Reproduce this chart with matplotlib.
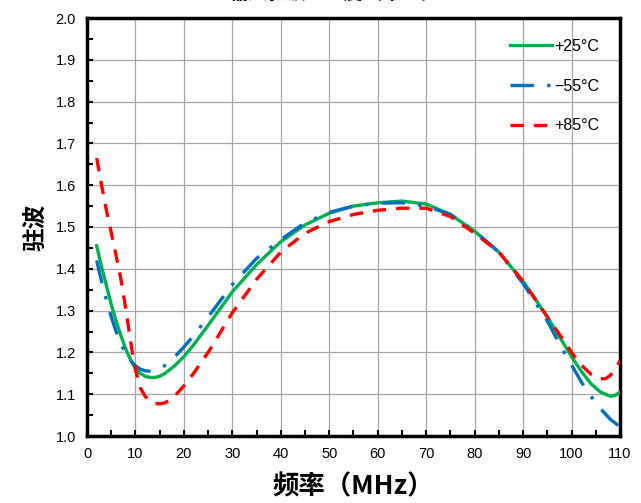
import matplotlib
matplotlib.use("Agg")
import matplotlib.pyplot as plt
from matplotlib.ticker import MultipleLocator

plt.rcParams['font.family'] = ['Liberation Sans', 'Noto Sans CJK SC', 'DejaVu Sans']

freq_g = [2, 3, 4, 5, 6, 7, 8, 9, 10, 11, 12, 13, 14, 15, 16, 18, 20, 22, 25, 30, 35, 40, 45, 50, 55, 60, 65, 70, 75, 80, 85, 90, 95, 98, 100, 102, 104, 106, 108, 109, 110]
vswr_25 = [1.455, 1.405, 1.36, 1.315, 1.275, 1.24, 1.208, 1.182, 1.162, 1.15, 1.143, 1.14, 1.14, 1.143, 1.149, 1.167, 1.19, 1.218, 1.265, 1.345, 1.41, 1.465, 1.505, 1.533, 1.55, 1.558, 1.562, 1.555, 1.53, 1.49, 1.44, 1.37, 1.285, 1.228, 1.19, 1.155, 1.125, 1.105, 1.095, 1.097, 1.105]

freq_b = [2, 3, 4, 5, 6, 7, 8, 9, 10, 11, 12, 13, 14, 16, 18, 20, 22, 25, 30, 35, 40, 45, 50, 55, 60, 65, 70, 75, 80, 85, 90, 95, 98, 100, 102, 104, 106, 108, 110]
vswr_m55 = [1.42, 1.37, 1.325, 1.285, 1.25, 1.22, 1.197, 1.18, 1.168, 1.16, 1.156, 1.155, 1.157, 1.168, 1.188, 1.213, 1.24, 1.285, 1.362, 1.425, 1.47, 1.51, 1.535, 1.55, 1.557, 1.558, 1.55, 1.53, 1.49, 1.44, 1.365, 1.275, 1.21, 1.17, 1.13, 1.095, 1.065, 1.04, 1.022]

freq_r = [2, 3, 4, 5, 6, 7, 8, 9, 10, 11, 12, 13, 14, 15, 16, 17, 18, 20, 22, 25, 30, 35, 40, 45, 50, 55, 60, 65, 70, 75, 80, 85, 90, 95, 98, 100, 102, 104, 106, 107, 108, 109, 110]
vswr_85 = [1.665, 1.6, 1.54, 1.487, 1.432, 1.375, 1.305, 1.225, 1.158, 1.115, 1.095, 1.083, 1.078, 1.077, 1.079, 1.085, 1.094, 1.12, 1.15, 1.2, 1.295, 1.375, 1.44, 1.485, 1.513, 1.53, 1.54, 1.545, 1.545, 1.525, 1.485, 1.44, 1.37, 1.285, 1.235, 1.2, 1.17, 1.148, 1.137, 1.137, 1.145, 1.16, 1.18]

labels = ['+25°C', '\u221255°C', '+85°C']

fig = plt.figure(figsize=(6.41, 5.03), dpi=100)
ax = fig.add_axes([87/641, 1-436/503, (620-87)/641, (436-18)/503])

ax.plot(freq_g, vswr_25, color='#00b050', lw=2.4, ls='-', label=labels[0], zorder=3)
ax.plot(freq_b, vswr_m55, color='#0070c0', lw=2.4, ls=(0, (7, 4, 1, 4)), label=labels[1], zorder=3)
ax.plot(freq_r, vswr_85, color='#ff0000', lw=2.4, ls=(0, (4, 3)), label=labels[2], zorder=3)

ax.set_xlim(0, 110)
ax.set_ylim(1.0, 2.0)
ax.xaxis.set_major_locator(MultipleLocator(10))
ax.xaxis.set_minor_locator(MultipleLocator(5))
ax.yaxis.set_major_locator(MultipleLocator(0.1))
ax.yaxis.set_minor_locator(MultipleLocator(0.05))
ax.yaxis.set_major_formatter(plt.FuncFormatter(lambda v, p: f"{v:.1f}"))
ax.grid(True, which='major', color='#a6a6a6', lw=0.9)
ax.tick_params(which='both', direction='in', length=4, width=1.5, labelsize=10.5)
ax.tick_params(axis='x', pad=8)
ax.tick_params(axis='y', pad=8)
for s in ax.spines.values():
    s.set_linewidth(2.5)

ax.set_xlabel('频率（MHz）', family=['Noto Sans CJK SC'], fontweight='bold', fontsize=19, labelpad=9)
ax.set_ylabel('驻波', family=['Noto Sans CJK SC'], fontweight='bold', fontsize=17, labelpad=6)

leg = ax.legend(loc='upper right', frameon=False, fontsize=11.5, handlelength=2.6,
                labelspacing=1.55, handletextpad=0.15, borderaxespad=0.9)

fig.text(335/641, 1.014, '输入驻波—温度（常温）', family=['Noto Sans CJK SC'],
         fontweight='bold', fontsize=14, ha='center', va='center')

fig.savefig('out.png', dpi=100)
